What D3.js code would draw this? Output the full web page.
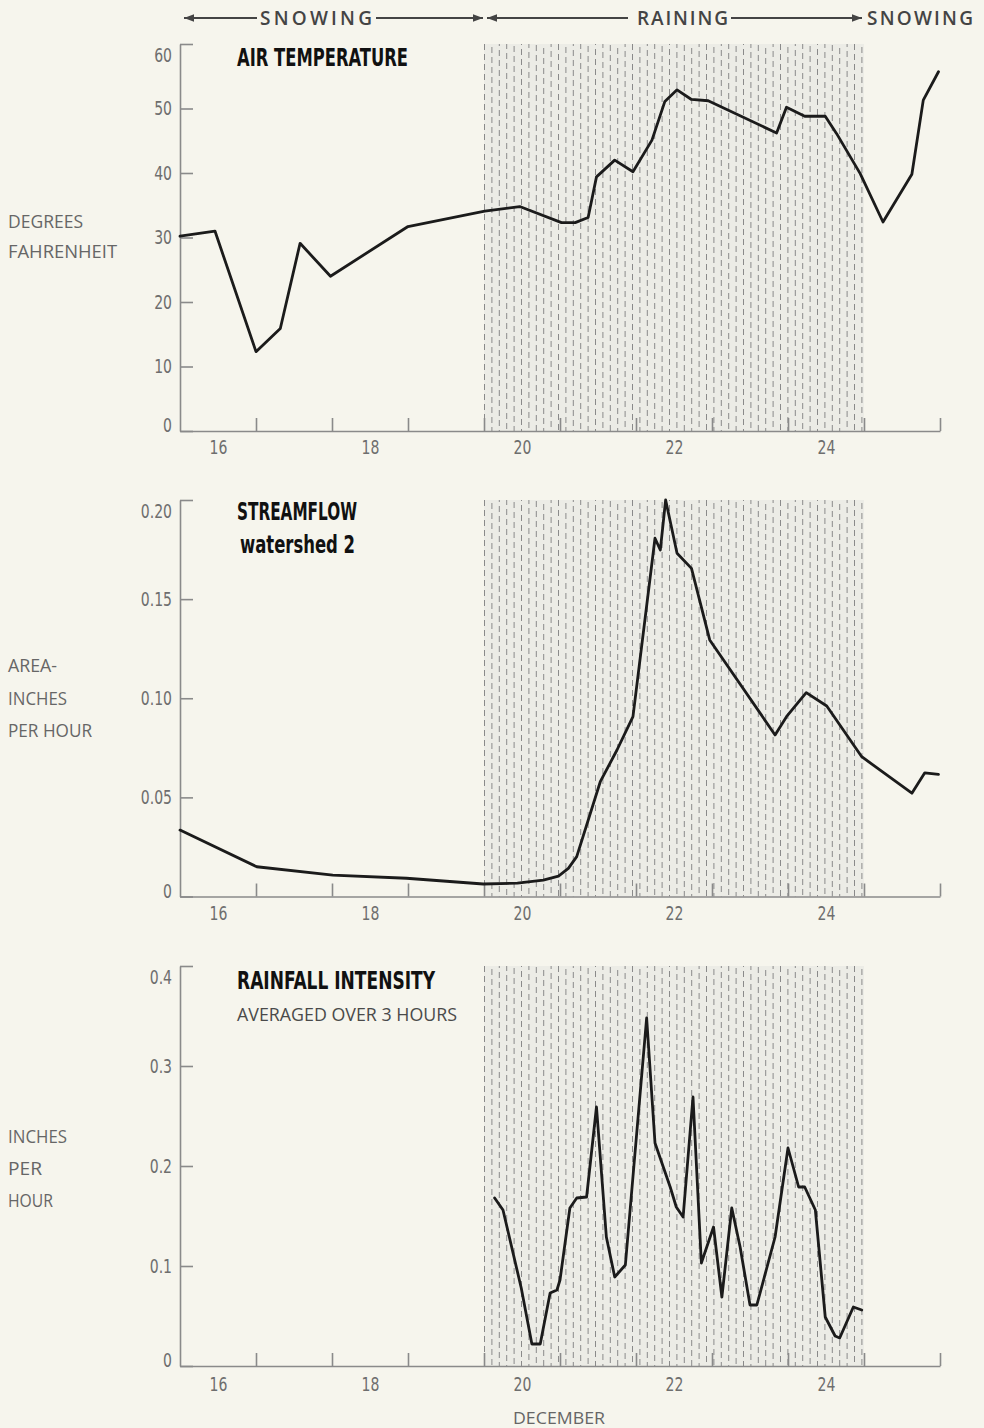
<!DOCTYPE html>
<html>
<head>
<meta charset="utf-8">
<script src="https://cdn.jsdelivr.net/npm/d3@7"></script>
<style>
  html, body { margin: 0; padding: 0; background: #f6f5ed; }
  svg { display: block; }
</style>
</head>
<body>
<svg id="chart" width="984" height="1428"></svg>
<script>
// ---- Time axis: fractional day of December ----
const dayDomain = [15.5, 25.5];
const dayTicks = [16.5, 17.5, 18.5, 19.5, 20.5, 21.5, 22.5, 23.5, 24.5, 25.5];
const dayLabels = [16, 18, 20, 22, 24];
const rainPeriod = [19.5, 24.5];

// ---- Air temperature, degrees F ----
const tempDays = [15.5, 15.96, 16.5, 16.82, 17.08, 17.48, 18.5, 19.51, 19.97, 20.52, 20.7, 20.87, 20.98, 21.22, 21.46, 21.71, 21.88, 22.04, 22.23, 22.45, 23.35, 23.48, 23.72, 23.99, 24.14, 24.45, 24.75, 25.13, 25.28, 25.48];
const tempValues = [30.2, 31.0, 12.3, 15.9, 29.1, 24.0, 31.7, 34.1, 34.8, 32.3, 32.3, 33.1, 39.4, 42.0, 40.2, 45.1, 51.1, 52.9, 51.4, 51.2, 46.2, 50.2, 48.8, 48.8, 46.1, 39.9, 32.4, 39.8, 51.3, 55.7];
const tempTicks = [0, 10, 20, 30, 40, 50, 60];
const tempTickLabels = ["0", "10", "20", "30", "40", "50", "60"];

// ---- Streamflow, watershed 2, area-inches per hour ----
const flowDays = [15.5, 16.51, 17.51, 18.48, 19.49, 19.94, 20.28, 20.48, 20.61, 20.72, 21.03, 21.25, 21.46, 21.75, 21.82, 21.89, 22.04, 22.23, 22.47, 23.33, 23.48, 23.74, 24.01, 24.47, 25.13, 25.30, 25.48];
const flowValues = [0.0335, 0.0150, 0.0108, 0.0092, 0.0063, 0.0067, 0.0083, 0.0103, 0.0142, 0.0201, 0.0579, 0.0739, 0.0907, 0.1807, 0.1748, 0.2000, 0.1731, 0.1655, 0.1294, 0.0815, 0.0907, 0.1028, 0.0961, 0.0705, 0.0521, 0.0624, 0.0616];
const flowTicks = [0, 0.05, 0.10, 0.15, 0.20];
const flowTickLabels = ["0", "0.05", "0.10", "0.15", "0.20"];

// ---- Rainfall intensity (3-hour average), inches per hour ----
const rainDays = [19.64, 19.75, 19.99, 20.13, 20.24, 20.37, 20.46, 20.5, 20.63, 20.72, 20.85, 20.98, 21.11, 21.22, 21.36, 21.64, 21.75, 21.95, 22.03, 22.12, 22.25, 22.36, 22.52, 22.63, 22.76, 22.87, 23.0, 23.09, 23.33, 23.5, 23.64, 23.72, 23.86, 23.99, 24.12, 24.18, 24.36, 24.47];
const rainValues = [0.168, 0.156, 0.078, 0.022, 0.022, 0.073, 0.076, 0.086, 0.158, 0.168, 0.169, 0.259, 0.129, 0.089, 0.101, 0.348, 0.223, 0.179, 0.159, 0.149, 0.269, 0.103, 0.139, 0.069, 0.158, 0.119, 0.061, 0.061, 0.129, 0.218, 0.179, 0.179, 0.156, 0.049, 0.030, 0.028, 0.059, 0.056];
const rainTicks = [0, 0.1, 0.2, 0.3, 0.4];
const rainTickLabels = ["0", "0.1", "0.2", "0.3", "0.4"];

// ---- Layout ----
const svg = d3.select("#chart");
const x = d3.scaleLinear().domain(dayDomain).range([180, 940]);

const AXIS = "#8a8a8a";
const LABEL = "#6e6e6e";
const INK = "#1b1b1b";
const NARROW = "'Liberation Sans Narrow', 'DejaVu Sans Condensed', 'Liberation Sans', sans-serif";
const GOTHIC = "'Open Sans', 'DejaVu Sans', sans-serif";

// squeeze numeric labels to a condensed set
function condense(sel, factor) {
  sel.each(function () {
    const w = this.getComputedTextLength();
    d3.select(this).attr("textLength", w * factor).attr("lengthAdjust", "spacingAndGlyphs");
  });
}

const panels = [
  {
    top: 44, bottom: 431, domain: [0, 60],
    ticks: tempTicks, tickLabels: tempTickLabels,
    days: tempDays, values: tempValues,
    titles: [{ text: "AIR TEMPERATURE", dy: 22, width: 171 }],
    sub: null, labelPad: 10,
    units: [{ text: "DEGREES", y: 228, w: 75 }, { text: "FAHRENHEIT", y: 258, w: 109 }]
  },
  {
    top: 500, bottom: 896.5, domain: [0, 0.2],
    ticks: flowTicks, tickLabels: flowTickLabels,
    days: flowDays, values: flowValues,
    titles: [{ text: "STREAMFLOW", dy: 20, width: 120 }, { text: "watershed 2", dy: 53, width: 115, x: 240 }],
    sub: null, labelPad: 10,
    units: [{ text: "AREA-", y: 672, w: 49 }, { text: "INCHES", y: 705, w: 59 }, { text: "PER HOUR", y: 737, w: 84 }]
  },
  {
    top: 966, bottom: 1366, domain: [0, 0.4],
    ticks: rainTicks, tickLabels: rainTickLabels,
    days: rainDays, values: rainValues,
    titles: [{ text: "RAINFALL INTENSITY", dy: 23, width: 198 }],
    sub: { text: "AVERAGED OVER 3 HOURS", dy: 55, width: 220 }, labelPad: 12,
    units: [{ text: "INCHES", y: 1143, w: 59 }, { text: "PER", y: 1175, w: 34 }, { text: "HOUR", y: 1207, w: 45 }]
  }
];

panels.forEach(p => {
  const y = d3.scaleLinear().domain(p.domain).range([p.bottom, p.top]);
  const g = svg.append("g");

  // rain period: light screen with staggered dashed rules
  const rx0 = x(rainPeriod[0]), rx1 = x(rainPeriod[1]);
  g.append("rect")
    .attr("x", rx0).attr("y", p.top)
    .attr("width", rx1 - rx0).attr("height", p.bottom - p.top)
    .attr("fill", "#ecece6");
  const step = 7.4;
  const cols = d3.range(rx0 + 0.5, rx1 + 0.5, step);
  g.append("g").selectAll("line").data(cols).join("line")
    .attr("x1", d => d).attr("x2", d => d)
    .attr("y1", p.top).attr("y2", p.bottom)
    .attr("stroke", "#8a8a8a").attr("stroke-width", 1)
    .attr("stroke-dasharray", "6 4")
    .attr("stroke-dashoffset", (d, i) => (i * 7) % 10);

  // y axis with inward ticks
  const ya = d3.axisLeft(y).tickValues(p.ticks)
    .tickFormat((d, i) => p.tickLabels[i])
    .tickSizeInner(-13).tickSizeOuter(0).tickPadding(8);
  const yg = g.append("g").attr("transform", `translate(${x.range()[0]},0)`).call(ya);
  yg.select(".domain").attr("stroke", AXIS).attr("stroke-width", 1.6);
  yg.selectAll(".tick line").attr("stroke", AXIS).attr("stroke-width", 1.6);
  const yt = yg.selectAll(".tick text")
    .attr("font-family", NARROW).attr("font-size", 19).attr("fill", LABEL)
    .attr("dy", (d, i) => i === p.ticks.length - 1 ? "0.9em" : (i === 0 ? "0.05em" : "0.34em"));
  condense(yt, 0.82);

  // x axis: day boundaries marked with inward ticks
  const xa = d3.axisBottom(x).tickValues(dayTicks).tickFormat("")
    .tickSizeInner(-13).tickSizeOuter(0);
  const xg = g.append("g").attr("transform", `translate(0,${p.bottom})`).call(xa);
  xg.select(".domain").attr("stroke", AXIS).attr("stroke-width", 1.6);
  xg.selectAll(".tick line").attr("stroke", AXIS).attr("stroke-width", 1.6);

  // day labels
  const la = d3.axisBottom(x).tickValues(dayLabels).tickSize(0).tickPadding(p.labelPad).tickFormat(d3.format("d"));
  const lg = g.append("g").attr("transform", `translate(0,${p.bottom})`).call(la);
  lg.select(".domain").remove();
  const xt = lg.selectAll(".tick text")
    .attr("font-family", NARROW).attr("font-size", 19).attr("fill", LABEL);
  condense(xt, 0.82);

  // series line
  const pts = p.days.map((d, i) => [d, p.values[i]]);
  g.append("path").datum(pts)
    .attr("fill", "none").attr("stroke", INK).attr("stroke-width", 2.8)
    .attr("stroke-linejoin", "round").attr("stroke-linecap", "round")
    .attr("d", d3.line().x(d => x(d[0])).y(d => y(d[1])));

  // panel titles
  p.titles.forEach(t => {
    g.append("text")
      .attr("x", t.x || 237).attr("y", p.top + t.dy)
      .attr("font-family", NARROW).attr("font-weight", "bold").attr("font-size", 25)
      .attr("fill", "#111")
      .attr("textLength", t.width).attr("lengthAdjust", "spacingAndGlyphs")
      .text(t.text);
  });
  if (p.sub) {
    g.append("text")
      .attr("x", 237).attr("y", p.top + p.sub.dy)
      .attr("font-family", GOTHIC).attr("font-size", 18)
      .attr("fill", "#4a4a4a")
      .attr("textLength", p.sub.width).attr("lengthAdjust", "spacingAndGlyphs")
      .text(p.sub.text);
  }

  // unit labels at the left margin
  p.units.forEach(u => {
    svg.append("text")
      .attr("x", 8).attr("y", u.y)
      .attr("font-family", GOTHIC).attr("font-size", 19)
      .attr("fill", "#666")
      .attr("textLength", u.w).attr("lengthAdjust", "spacingAndGlyphs")
      .text(u.text);
  });
});

// ---- Precipitation type header ----
const hy = 18;
const head = svg.append("g").attr("stroke", "#444").attr("fill", "#444");
function arrowHead(xTip, dir) {
  head.append("path")
    .attr("stroke", "none")
    .attr("d", `M${xTip},${hy} L${xTip + dir * 10},${hy - 3.8} L${xTip + dir * 10},${hy + 3.8} Z`);
}
function rule(x0, x1) {
  head.append("line").attr("x1", x0).attr("x2", x1).attr("y1", hy).attr("y2", hy).attr("stroke-width", 2);
}
const sx0 = x(dayDomain[0]) + 4, sx1 = x(rainPeriod[0]) - 1;
const rx0 = x(rainPeriod[0]) + 3, rx1 = x(rainPeriod[1]) - 2;
rule(sx0, 257); arrowHead(sx0, 1);
rule(376, sx1); arrowHead(sx1, -1);
rule(rx0, 628); arrowHead(rx0, 1);
rule(731, rx1); arrowHead(rx1, -1);

function headText(t, x0, w) {
  svg.append("text")
    .attr("x", x0).attr("y", hy + 7)
    .attr("font-family", GOTHIC).attr("font-size", 19).attr("font-weight", 600)
    .attr("fill", "#444")
    .attr("textLength", w).attr("lengthAdjust", "spacing")
    .text(t);
}
headText("SNOWING", 260, 112);
headText("RAINING", 637, 91);
headText("SNOWING", 867, 106);

// ---- Month label ----
svg.append("text")
  .attr("x", 513).attr("y", 1424)
  .attr("font-family", GOTHIC).attr("font-size", 17)
  .attr("fill", "#666")
  .attr("textLength", 92).attr("lengthAdjust", "spacingAndGlyphs")
  .text("DECEMBER");
</script>
</body>
</html>
